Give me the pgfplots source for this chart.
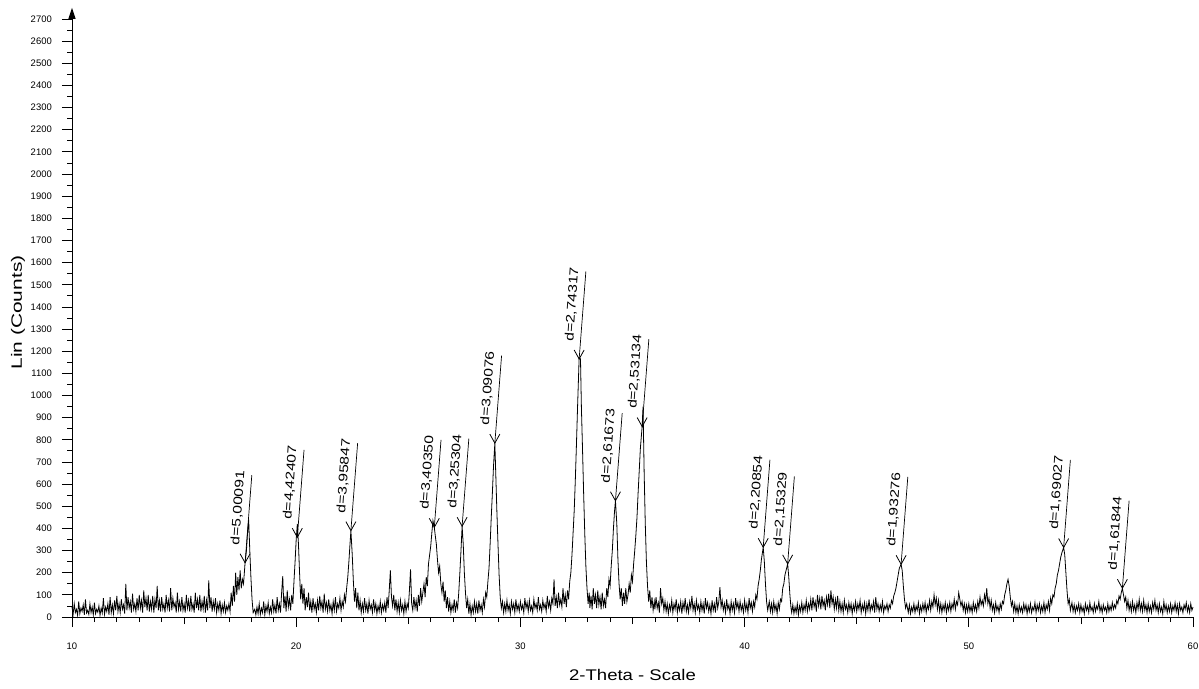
\documentclass[border=0pt]{standalone}
\usepackage{pgfplots}
\pgfplotsset{compat=1.18}
\usepackage{pgfplotstable}
\usepackage{graphicx}
\usepackage{fontspec}
\setmainfont{Liberation Sans}
\usetikzlibrary{arrows.meta}

% V-shaped peak marker
\pgfdeclareplotmark{vee}{%
  \pgfpathmoveto{\pgfpoint{-5bp}{9bp}}%
  \pgfpathlineto{\pgfpoint{0bp}{0bp}}%
  \pgfpathlineto{\pgfpoint{5bp}{9bp}}%
  \pgfusepathqstroke}

\pgfplotstableread{
x y label
17.72 245 d=5,00091
20.05 360 d=4,42407
22.44 390 d=3,95847
26.16 405 d=3,40350
27.40 410 d=3,25304
28.86 785 d=3,09076
32.62 1165 d=2,74317
34.24 525 d=2,61673
35.43 860 d=2,53134
40.83 315 d=2,20854
41.92 240 d=2,15329
46.98 238 d=1,93276
54.23 314 d=1,69027
56.85 130 d=1,61844
}\peaks

\begin{document}
\begin{tikzpicture}
\begin{axis}[
  name=ax,
  scale only axis,
  width=1121bp, height=609.1bp,
  xmin=10, xmax=60, ymin=0, ymax=2750,
  enlargelimits=false,
  axis x line=bottom, axis y line=left,
  x axis line style={-, line width=1bp},
  y axis line style={-{Triangle[width=7bp,length=11bp]}, line width=1bp},
  tick align=outside,
  xtick={10,20,...,60},
  ytick={0,100,...,2700},
  minor x tick num=9,
  minor y tick num=1,
  extra x ticks={15,25,35,45,55},
  extra x tick labels={},
  extra x tick style={major tick length=7bp},
  major tick length=10bp,
  minor tick length=5bp,
  every tick/.style={black, line width=0.8bp},
  /pgf/number format/assume math mode=true,
  /pgf/number format/set thousands separator={},
  tick label style={font=\fontsize{9.5}{10}\selectfont},
  yticklabel style={inner sep=0pt, xshift=-10bp},
  xticklabel style={inner sep=0pt, yshift=-16bp},
  xlabel={\scalebox{1.2}[1]{2-Theta - Scale}},
  ylabel={\scalebox{1.4}[1]{Lin (Counts)}},
  xlabel style={font=\fontsize{15.5}{16}\selectfont, at={(axis description cs:0.5,-0.0952)}, anchor=center},
  ylabel style={font=\fontsize{15}{16}\selectfont, at={(axis description cs:-0.0482,0.5)}, anchor=center},
  clip=false,
]
\addplot[black, line width=0.8bp, sharp plot] coordinates {
(10.0,45)(10.05,12)(10.1,60)(10.15,20)(10.2,35)(10.25,8)(10.3,70)(10.35,15)(10.4,40)(10.45,25)(10.5,55)(10.55,10)(10.6,80)(10.65,18)(10.7,30)(10.75,12)(10.8,60)(10.85,20)(10.9,45)(10.95,10)
(11.0,65)(11.05,15)(11.1,35)(11.15,22)(11.2,50)(11.25,8)(11.3,40)(11.35,18)(11.4,85)(11.45,12)(11.5,45)(11.55,25)(11.6,60)(11.65,10)(11.7,90)(11.75,20)(11.8,55)(11.85,15)(11.9,75)(11.95,30)
(12.0,95)(12.05,25)(12.1,60)(12.15,20)(12.2,80)(12.25,35)(12.3,55)(12.35,15)(12.4,150)(12.45,30)(12.5,90)(12.55,40)(12.6,70)(12.65,20)(12.7,105)(12.75,35)(12.8,60)(12.85,25)(12.9,85)(12.95,30)
(13.0,100)(13.05,40)(13.1,75)(13.15,20)(13.2,120)(13.25,45)(13.3,85)(13.35,30)(13.4,100)(13.45,25)(13.5,70)(13.55,35)(13.6,95)(13.65,20)(13.7,80)(13.75,40)(13.8,140)(13.85,30)(13.9,75)(13.95,25)
(14.0,90)(14.05,35)(14.1,60)(14.15,20)(14.2,100)(14.25,40)(14.3,75)(14.35,25)(14.4,130)(14.45,30)(14.5,85)(14.55,45)(14.6,65)(14.65,20)(14.7,110)(14.75,35)(14.8,70)(14.85,25)(14.9,90)(14.95,30)
(15.0,60)(15.05,20)(15.1,100)(15.15,40)(15.2,75)(15.25,25)(15.3,95)(15.35,35)(15.4,60)(15.45,20)(15.5,110)(15.55,40)(15.6,80)(15.65,30)(15.7,100)(15.75,25)(15.8,70)(15.85,35)(15.9,95)(15.95,20)
(16.0,75)(16.05,30)(16.1,165)(16.15,40)(16.2,90)(16.25,25)(16.3,70)(16.35,35)(16.4,85)(16.45,20)(16.5,60)(16.55,30)(16.6,75)(16.65,15)(16.7,55)(16.75,25)(16.8,65)(16.85,20)(16.9,50)(16.95,30)
(17.0,60)(17.05,25)(17.1,110)(17.15,50)(17.2,140)(17.25,70)(17.3,200)(17.35,100)(17.4,180)(17.45,120)(17.5,210)(17.55,130)(17.6,170)(17.65,150)(17.72,245)(17.78,300)(17.83,380)(17.88,440)(17.93,300)(17.98,180)(18.03,80)(18.08,20)
(18.15,35)(18.2,10)(18.25,45)(18.3,15)(18.35,60)(18.4,12)(18.45,40)(18.5,20)(18.55,70)(18.6,10)(18.65,50)(18.7,25)(18.75,65)(18.8,15)(18.85,45)(18.9,20)(18.95,80)
(19.0,25)(19.05,55)(19.1,15)(19.15,90)(19.2,30)(19.25,60)(19.3,20)(19.35,110)(19.4,185)(19.45,40)(19.5,95)(19.55,25)(19.6,120)(19.65,45)(19.7,80)(19.75,30)(19.8,100)(19.85,60)(19.9,160)(19.95,250)
(20.0,350)(20.05,420)(20.1,330)(20.15,200)(20.2,80)(20.25,150)(20.3,60)(20.35,130)(20.4,30)(20.45,90)(20.5,45)(20.55,110)(20.6,30)(20.65,70)(20.7,20)(20.75,85)(20.8,35)(20.85,60)(20.9,20)(20.95,75)
(21.0,30)(21.05,95)(21.1,40)(21.15,70)(21.2,20)(21.25,105)(21.3,35)(21.35,65)(21.4,25)(21.45,80)(21.5,30)(21.55,55)(21.6,15)(21.65,70)(21.7,30)(21.75,90)(21.8,25)(21.85,60)(21.9,40)(21.95,85)
(22.0,30)(22.05,70)(22.1,45)(22.15,100)(22.2,70)(22.25,130)(22.3,180)(22.35,250)(22.4,330)(22.44,390)(22.5,280)(22.55,160)(22.6,70)(22.65,130)(22.7,40)(22.75,110)(22.8,30)(22.85,75)(22.9,20)(22.95,60)
(23.0,25)(23.05,85)(23.1,30)(23.15,60)(23.2,15)(23.25,75)(23.3,35)(23.35,55)(23.4,20)(23.45,80)(23.5,30)(23.55,60)(23.6,15)(23.65,50)(23.7,25)(23.75,70)(23.8,20)(23.85,55)(23.9,30)(23.95,65)
(24.0,20)(24.05,90)(24.1,40)(24.15,120)(24.2,210)(24.25,90)(24.3,50)(24.35,100)(24.4,30)(24.45,80)(24.5,25)(24.55,65)(24.6,20)(24.65,75)(24.7,30)(24.75,55)(24.8,15)(24.85,70)(24.9,25)(24.95,60)
(25.0,40)(25.05,120)(25.1,215)(25.15,60)(25.2,30)(25.25,90)(25.3,40)(25.35,75)(25.4,25)(25.45,100)(25.5,50)(25.55,130)(25.6,70)(25.65,110)(25.7,150)(25.75,90)(25.8,180)(25.85,140)(25.9,240)(25.95,280)
(26.0,320)(26.05,380)(26.1,435)(26.16,405)(26.2,370)(26.25,330)(26.3,260)(26.35,200)(26.4,230)(26.45,150)(26.5,110)(26.55,160)(26.6,70)(26.65,120)(26.7,40)(26.75,90)(26.8,25)(26.85,70)(26.9,20)(26.95,55)
(27.0,30)(27.05,80)(27.1,20)(27.15,65)(27.2,40)(27.25,110)(27.3,200)(27.35,300)(27.4,410)(27.45,330)(27.5,200)(27.55,110)(27.6,40)(27.65,80)(27.7,15)(27.75,60)(27.8,10)(27.85,50)(27.9,20)(27.95,70)
(28.0,25)(28.05,60)(28.1,15)(28.15,75)(28.2,30)(28.25,55)(28.3,20)(28.35,80)(28.4,45)(28.45,110)(28.5,90)(28.55,160)(28.6,220)(28.65,330)(28.7,450)(28.75,560)(28.8,680)(28.86,785)(28.9,650)(28.95,480)(29.0,330)(29.05,190)(29.1,90)(29.15,40)(29.2,70)(29.25,20)(29.3,60)(29.35,25)
(29.4,75)(29.45,30)(29.5,55)(29.55,15)(29.6,70)(29.65,35)(29.7,60)(29.75,20)(29.8,80)(29.85,30)(29.9,55)(29.95,25)
(30.0,70)(30.05,35)(30.1,55)(30.15,20)(30.2,85)(30.25,40)(30.3,65)(30.35,25)(30.4,75)(30.45,30)(30.5,50)(30.55,20)(30.6,80)(30.65,40)(30.7,60)(30.75,30)(30.8,90)(30.85,35)(30.9,55)(30.95,25)
(31.0,75)(31.05,40)(31.1,60)(31.15,25)(31.2,95)(31.25,45)(31.3,70)(31.35,30)(31.4,85)(31.45,60)(31.5,170)(31.55,50)(31.6,90)(31.65,40)(31.7,110)(31.75,55)(31.8,80)(31.85,45)(31.9,130)(31.95,60)
(32.0,100)(32.05,45)(32.1,120)(32.15,80)(32.2,160)(32.25,200)(32.3,280)(32.35,380)(32.4,480)(32.45,620)(32.5,780)(32.55,950)(32.62,1170)(32.68,1165)(32.72,950)(32.77,760)(32.82,560)(32.87,380)(32.92,230)(32.97,130)(33.02,60)(33.07,110)
(33.1,40)(33.15,95)(33.2,35)(33.25,130)(33.3,60)(33.35,100)(33.4,40)(33.45,120)(33.5,55)(33.55,90)(33.6,35)(33.65,110)(33.7,50)(33.75,80)(33.8,40)(33.85,130)(33.9,90)(33.95,170)
(34.0,140)(34.05,230)(34.1,300)(34.15,400)(34.2,480)(34.24,525)(34.3,420)(34.35,260)(34.4,150)(34.45,80)(34.5,130)(34.55,50)(34.6,110)(34.65,60)(34.7,130)(34.75,70)(34.8,100)(34.85,150)(34.9,110)(34.95,190)
(35.0,160)(35.05,240)(35.1,300)(35.15,370)(35.2,450)(35.25,560)(35.3,660)(35.35,760)(35.43,860)(35.47,950)(35.52,650)(35.57,420)(35.62,250)(35.67,140)(35.72,70)(35.77,120)(35.82,40)(35.87,90)(35.92,30)(35.97,70)
(36.0,35)(36.05,90)(36.1,40)(36.15,65)(36.2,20)(36.25,130)(36.3,60)(36.35,85)(36.4,30)(36.45,70)(36.5,25)(36.55,60)(36.6,15)(36.65,55)(36.7,30)(36.75,75)(36.8,20)(36.85,60)(36.9,35)(36.95,80)
(37.0,20)(37.05,55)(37.1,30)(37.15,70)(37.2,15)(37.25,65)(37.3,35)(37.35,85)(37.4,25)(37.45,55)(37.5,20)(37.55,70)(37.6,40)(37.65,95)(37.7,30)(37.75,60)(37.8,20)(37.85,75)(37.9,35)(37.95,55)
(38.0,20)(38.05,70)(38.1,30)(38.15,60)(38.2,15)(38.25,85)(38.3,40)(38.35,65)(38.4,25)(38.45,55)(38.5,15)(38.55,75)(38.6,30)(38.65,60)(38.7,20)(38.75,90)(38.8,40)(38.85,70)(38.9,135)(38.95,45)
(39.0,75)(39.05,30)(39.1,60)(39.15,20)(39.2,80)(39.25,35)(39.3,55)(39.35,15)(39.4,70)(39.45,30)(39.5,60)(39.55,20)(39.6,85)(39.65,40)(39.7,65)(39.75,25)(39.8,70)(39.85,30)(39.9,55)(39.95,20)
(40.0,75)(40.05,30)(40.1,60)(40.15,20)(40.2,85)(40.25,40)(40.3,65)(40.35,25)(40.4,70)(40.45,45)(40.5,100)(40.55,80)(40.6,140)(40.65,170)(40.7,210)(40.75,260)(40.83,315)(40.88,250)(40.93,150)(40.98,70)(41.03,30)
(41.1,70)(41.15,25)(41.2,60)(41.25,20)(41.3,70)(41.35,30)(41.4,55)(41.45,15)(41.5,65)(41.55,35)(41.6,80)(41.65,70)(41.7,130)(41.75,150)(41.8,190)(41.85,210)(41.92,240)(41.97,180)(42.02,100)(42.07,40)
(42.1,20)(42.15,55)(42.2,15)(42.25,45)(42.3,20)(42.35,60)(42.4,10)(42.45,50)(42.5,25)(42.55,65)(42.6,20)(42.65,55)(42.7,30)(42.75,75)(42.8,25)(42.85,60)(42.9,35)(42.95,80)
(43.0,30)(43.05,90)(43.1,45)(43.15,70)(43.2,25)(43.25,100)(43.3,50)(43.35,85)(43.4,35)(43.45,95)(43.5,50)(43.55,75)(43.6,30)(43.65,90)(43.7,55)(43.75,105)(43.8,40)(43.85,120)(43.9,60)(43.95,90)
(44.0,35)(44.05,80)(44.1,40)(44.15,95)(44.2,30)(44.25,70)(44.3,25)(44.35,60)(44.4,20)(44.45,75)(44.5,35)(44.55,55)(44.6,20)(44.65,65)(44.7,30)(44.75,60)(44.8,15)(44.85,55)(44.9,30)(44.95,70)
(45.0,25)(45.05,60)(45.1,35)(45.15,75)(45.2,20)(45.25,55)(45.3,30)(45.35,65)(45.4,15)(45.45,60)(45.5,30)(45.55,80)(45.6,25)(45.65,55)(45.7,35)(45.75,70)(45.8,20)(45.85,90)(45.9,35)(45.95,60)
(46.0,25)(46.05,55)(46.1,30)(46.15,70)(46.2,20)(46.25,50)(46.3,35)(46.35,60)(46.4,25)(46.45,55)(46.5,40)(46.55,75)(46.6,60)(46.65,95)(46.7,110)(46.75,130)(46.8,160)(46.85,190)(46.9,220)(46.98,238)(47.03,210)(47.08,140)(47.13,80)(47.18,40)(47.23,60)
(47.3,20)(47.35,55)(47.4,15)(47.45,45)(47.5,25)(47.55,60)(47.6,20)(47.65,50)(47.7,30)(47.75,65)(47.8,15)(47.85,50)(47.9,25)(47.95,60)
(48.0,30)(48.05,65)(48.1,20)(48.15,55)(48.2,35)(48.25,75)(48.3,30)(48.35,70)(48.4,45)(48.45,100)(48.5,55)(48.55,85)(48.6,35)(48.65,75)(48.7,25)(48.75,60)(48.8,20)(48.85,55)(48.9,30)(48.95,65)
(49.0,20)(49.05,55)(49.1,30)(49.15,65)(49.2,25)(49.25,60)(49.3,40)(49.35,80)(49.4,35)(49.45,70)(49.5,55)(49.55,110)(49.6,80)(49.65,50)(49.7,70)(49.75,30)(49.8,60)(49.85,20)(49.9,55)(49.95,25)
(50.0,60)(50.05,25)(50.1,50)(50.15,20)(50.2,65)(50.25,30)(50.3,55)(50.35,25)(50.4,70)(50.45,40)(50.5,90)(50.55,55)(50.6,75)(50.65,50)(50.7,100)(50.75,70)(50.8,130)(50.85,60)(50.9,85)(50.95,40)
(51.0,75)(51.05,30)(51.1,55)(51.15,20)(51.2,65)(51.25,30)(51.3,50)(51.35,20)(51.4,60)(51.45,35)(51.5,70)(51.55,60)(51.6,100)(51.65,120)(51.7,150)(51.75,170)(51.8,140)(51.85,90)(51.9,50)(51.95,70)
(52.0,25)(52.05,60)(52.1,20)(52.15,50)(52.2,15)(52.25,55)(52.3,25)(52.35,45)(52.4,20)(52.45,60)(52.5,30)(52.55,55)(52.6,15)(52.65,50)(52.7,25)(52.75,60)(52.8,20)(52.85,45)(52.9,30)(52.95,65)
(53.0,20)(53.05,55)(53.1,30)(53.15,60)(53.2,20)(53.25,50)(53.3,25)(53.35,65)(53.4,20)(53.45,55)(53.5,35)(53.55,70)(53.6,30)(53.65,85)(53.7,60)(53.75,100)(53.8,90)(53.85,130)(53.9,150)(53.95,190)
(54.0,210)(54.05,240)(54.1,270)(54.15,290)(54.23,314)(54.28,280)(54.33,200)(54.38,120)(54.43,60)(54.48,80)(54.53,30)
(54.6,65)(54.65,25)(54.7,55)(54.75,20)(54.8,50)(54.85,30)(54.9,60)(54.95,20)
(55.0,55)(55.05,25)(55.1,45)(55.15,15)(55.2,60)(55.25,30)(55.3,50)(55.35,20)(55.4,65)(55.45,30)(55.5,45)(55.55,20)(55.6,60)(55.65,25)(55.7,50)(55.75,35)(55.8,70)(55.85,25)(55.9,50)(55.95,20)
(56.0,55)(56.05,30)(56.1,45)(56.15,20)(56.2,60)(56.25,25)(56.3,50)(56.35,30)(56.4,65)(56.45,35)(56.5,55)(56.55,40)(56.6,75)(56.65,60)(56.7,95)(56.75,80)(56.8,110)(56.85,130)(56.9,100)(56.95,70)
(57.0,90)(57.05,40)(57.1,75)(57.15,30)(57.2,60)(57.25,25)(57.3,70)(57.35,30)(57.4,55)(57.45,20)(57.5,65)(57.55,35)(57.6,80)(57.65,30)(57.7,60)(57.75,25)(57.8,75)(57.85,30)(57.9,55)(57.95,20)
(58.0,60)(58.05,25)(58.1,50)(58.15,20)(58.2,65)(58.25,35)(58.3,75)(58.35,30)(58.4,55)(58.45,20)(58.5,60)(58.55,25)(58.6,45)(58.65,15)(58.7,70)(58.75,30)(58.8,55)(58.85,20)(58.9,50)(58.95,25)
(59.0,60)(59.05,20)(59.1,50)(59.15,30)(59.2,65)(59.25,25)(59.3,55)(59.35,15)(59.4,60)(59.45,30)(59.5,45)(59.55,20)(59.6,55)(59.65,35)(59.7,65)(59.75,25)(59.8,50)(59.85,20)(59.9,60)(59.95,30)(60.0,45)
};
% leader lines
\addplot[black, line width=0.7bp, -, quiver={u=0.3, v=395}] table[x=x, y=y] {\peaks};
% V markers and d-spacing labels
\addplot[black, only marks, mark=vee, mark options={line width=0.8bp},
  nodes near coords={\scalebox{1.25}[1]{\pgfplotspointmeta}},
  point meta=explicit symbolic,
  nodes near coords style={font=\fontsize{12.5}{13}\selectfont, inner sep=1bp,
    xshift=-3bp, yshift=16bp, rotate=86, anchor=south west}]
  table[x=x, y=y, meta=label] {\peaks};
\end{axis}
\pgfresetboundingbox
\path[use as bounding box] ([shift={(-72bp,-71bp)}]ax.south west) rectangle ([shift={(6bp,7.9bp)}]ax.north east);
\end{tikzpicture}
\end{document}
